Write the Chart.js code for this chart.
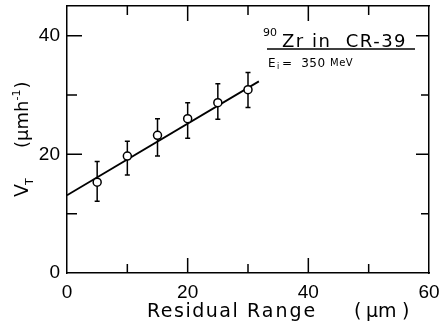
<!DOCTYPE html>
<html>
<head>
<meta charset="utf-8">
<script src="https://cdn.jsdelivr.net/npm/chart.js@4"></script>
<style>
  body { margin: 0; background: #fff; }
</style>
</head>
<body>
<canvas id="vt" width="439" height="334"></canvas>
<script>
// residual range (um) and track etch rate V_T (um/h)
var rangeX = [5, 10, 15, 20, 25, 30];
var vT = [15.3, 19.7, 23.2, 26.0, 28.7, 30.9];
var errLow = [12.1, 16.5, 19.7, 22.7, 25.9, 27.9];
var errHigh = [18.8, 22.2, 26.0, 28.7, 31.9, 33.8];
// fitted line end points
var fitX = [0, 31.8];
var fitY = [13.1, 32.3];
var xLabels = [0, 20, 40, 60];
var yLabels = [0, 20, 40];

var FONT = '"DejaVu Sans", sans-serif';
var TICKFONT = '"Liberation Sans", sans-serif';

function pts(xs, ys) {
  return xs.map(function (x, i) { return { x: x, y: ys[i] }; });
}

// inward ticks, error bars, titles and the note
var drawing = {
  id: 'drawing',
  beforeDatasetsDraw: function (chart) {
    var c = chart.ctx, xs = chart.scales.x, ys = chart.scales.y;
    c.save();
    c.strokeStyle = '#000';
    c.lineWidth = 1.5;
    rangeX.forEach(function (x, i) {
      var px = xs.getPixelForValue(x);
      var lo = ys.getPixelForValue(errLow[i]);
      var hi = ys.getPixelForValue(errHigh[i]);
      c.beginPath();
      c.moveTo(px, lo); c.lineTo(px, hi);
      c.moveTo(px - 2.5, lo); c.lineTo(px + 2.5, lo);
      c.moveTo(px - 2.5, hi); c.lineTo(px + 2.5, hi);
      c.stroke();
    });
    c.restore();
  },
  afterDraw: function (chart) {
    var c = chart.ctx, a = chart.chartArea;
    var xs = chart.scales.x, ys = chart.scales.y;
    c.save();
    c.strokeStyle = '#000';
    c.lineWidth = 1.5;
    c.beginPath();
    for (var v = 10; v < 60; v += 10) {
      var len = v % 20 === 0 ? 15 : 9;
      var px = xs.getPixelForValue(v);
      c.moveTo(px, a.bottom); c.lineTo(px, a.bottom - len);
      c.moveTo(px, a.top); c.lineTo(px, a.top + len);
    }
    for (var w = 10; w < 45; w += 10) {
      var l2 = w % 20 === 0 ? 15 : 10;
      var py = ys.getPixelForValue(w);
      c.moveTo(a.left, py); c.lineTo(a.left + l2, py);
      c.moveTo(a.right, py); c.lineTo(a.right - l2 + 2, py);
    }
    c.stroke();

    c.fillStyle = '#000';
    c.textAlign = 'left';
    c.textBaseline = 'alphabetic';
    // x title, word by word
    c.font = '19px ' + FONT;
    c.letterSpacing = '1.5px';
    c.fillText('Residual', 147, 317);
    c.letterSpacing = '2px';
    c.fillText('Range', 247, 317);
    c.letterSpacing = '0px';
    c.fillText('(', 354, 317);
    c.fillText('\u03BCm', 366, 317);
    c.fillText(')', 402, 317);

    // y title, rotated
    c.save();
    c.translate(28, 197);
    c.rotate(-Math.PI / 2);
    c.font = '19px ' + FONT;
    c.fillText('V', 0, 0);
    var wV = c.measureText('V').width;
    c.font = '11px ' + FONT;
    c.fillText('T', wV - 1, 5);
    c.font = '18px ' + FONT;
    c.fillText('(\u03BCmh', 49, 0);
    var wU = c.measureText('(\u03BCmh').width;
    c.font = '11px ' + FONT;
    c.fillText('-1', 49 + wU, -8);
    var wS = c.measureText('-1').width;
    c.font = '18px ' + FONT;
    c.fillText(')', 50 + wU + wS, 0);
    c.restore();

    // note in the upper right
    c.font = '11px ' + FONT;
    c.fillText('90', 263, 36);
    c.font = '18px ' + FONT;
    c.letterSpacing = '1.5px';
    c.fillText('Zr in  CR-39', 282, 47);
    c.beginPath();
    c.moveTo(267, 49); c.lineTo(415, 49);
    c.stroke();
    c.letterSpacing = '0.5px';
    c.font = '12px ' + FONT;
    c.fillText('E', 268, 67);
    c.font = '8px ' + FONT;
    c.fillText('i', 277, 69);
    c.font = '12px ' + FONT;
    c.fillText('=  350', 282, 67);
    c.font = '10px ' + FONT;
    c.fillText('MeV', 330, 66);
    c.restore();
  }
};

function axis(pos, max, size, labels) {
  var horiz = pos === 'bottom' || pos === 'top';
  return {
    type: 'linear',
    position: pos,
    min: 0,
    max: max,
    grid: { drawOnChartArea: false, drawTicks: false },
    border: { display: true, color: '#000', width: 1.5 },
    ticks: {
      display: !!labels,
      stepSize: 10,
      includeBounds: false,
      padding: horiz ? 8 : 7,
      color: '#000',
      font: { family: TICKFONT, size: 19 },
      callback: function (v) { return labels && labels.indexOf(v) >= 0 ? String(v) : ''; }
    },
    afterFit: function (s) {
      if (horiz) s.height = size; else s.width = size;
      s.paddingTop = 0; s.paddingBottom = 0;
      s.paddingLeft = 0; s.paddingRight = 0;
    }
  };
}

new Chart(document.getElementById('vt').getContext('2d'), {
  data: {
    datasets: [{
      type: 'scatter',
      data: pts(rangeX, vT),
      pointStyle: 'circle',
      pointRadius: 4,
      pointBackgroundColor: '#fff',
      pointBorderColor: '#000',
      pointBorderWidth: 1.5,
      order: 0
    }, {
      type: 'line',
      data: pts(fitX, fitY),
      borderColor: '#000',
      borderWidth: 1.8,
      pointRadius: 0,
      fill: false,
      order: 1
    }]
  },
  options: {
    responsive: false,
    animation: false,
    layout: { padding: 0 },
    plugins: { legend: { display: false }, tooltip: { enabled: false } },
    scales: {
      x: axis('bottom', 60, 61, xLabels),
      x2: axis('top', 60, 6, null),
      y: axis('left', 45, 67, yLabels),
      y2: axis('right', 45, 10, null)
    }
  },
  plugins: [drawing]
});
</script>
</body>
</html>
